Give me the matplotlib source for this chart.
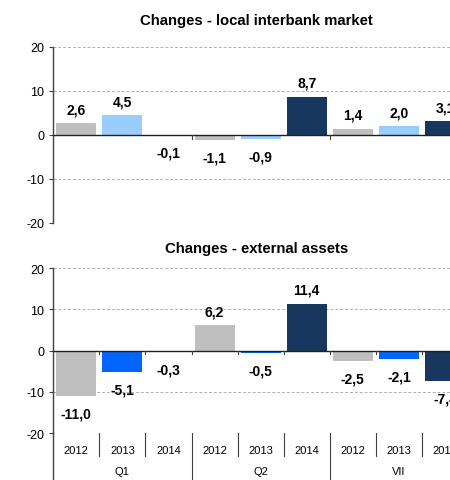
import numpy as np
import matplotlib
matplotlib.use("Agg")
import matplotlib.pyplot as plt
from matplotlib.lines import Line2D

plt.rcParams['font.family'] = ['Liberation Sans', 'DejaVu Sans']

years = ["2012", "2013", "2014"]
groups = ["Q1", "Q2", "VII"]
local_interbank = [2.6, 4.5, -0.1, -1.1, -0.9, 8.7, 1.4, 2.0, 3.1]
external_assets = [-11.0, -5.1, -0.3, 6.2, -0.5, 11.4, -2.5, -2.1, -7.4]
titles = ["Changes - local interbank market", "Changes - external assets"]

colors_top = ["#BFBFBF", "#99CCFF", "#17375E"]
colors_bot = ["#BFBFBF", "#0066FF", "#17375E"]

W, H = 450, 481
fig = plt.figure(figsize=(W / 100, H / 100), dpi=100)

def fx(px):
    return px / W

def fy(px):
    return 1 - px / H

left, right = 53.3, 468.0
ax1 = fig.add_axes([fx(left), fy(224.0), fx(right - left), (224.0 - 47.7) / H])
ax2 = fig.add_axes([fx(left), fy(434.3), fx(right - left), (434.3 - 269.0) / H])

n = len(local_interbank)
x = np.arange(n)
axis_col = "#404040"

def draw(ax, vals, cols, title, boundary_ticks, tpad):
    barcols = [cols[i % 3] for i in range(n)]
    ax.bar(x, vals, width=0.87, color=barcols, zorder=2)
    ax.set_xlim(-0.5, n - 0.5)
    ax.set_ylim(-20, 20)
    ax.set_yticks([-20, -10, 0, 10, 20])
    ax.set_yticklabels(["-20", "-10", "0", "10", "20"])
    ax.tick_params(axis='y', length=3, width=0.8, color=axis_col, labelsize=9, pad=3.3, labelcolor="#000000")
    ax.set_xticks([])
    for s in ["top", "right", "bottom"]:
        ax.spines[s].set_visible(False)
    ax.spines["left"].set_color(axis_col)
    ax.spines["left"].set_linewidth(1.0)
    for yv in [-20, -10, 10, 20]:
        ax.axhline(yv, color="#B0B0B0", lw=0.7, ls=(0, (3, 2)), zorder=0)
    ax.axhline(0, color="#202020", lw=1.0, zorder=3)
    for b in boundary_ticks:
        ax.plot([b, b], [0, -0.9], color=axis_col, lw=0.8, zorder=3)
    for xi, v in zip(x, vals):
        txt = f"{v:.1f}".replace(".", ",")
        if v >= 0:
            ax.annotate(txt, (xi, v), xytext=(0, 10), textcoords="offset points",
                        ha="center", va="center", fontsize=10, fontweight="bold", zorder=4)
        else:
            ax.annotate(txt, (xi, v), xytext=(0, -12.5), textcoords="offset points",
                        ha="center", va="center", fontsize=10, fontweight="bold", zorder=4)
    ax.set_title(title, fontsize=10.7, fontweight="bold", pad=tpad, x=0.49)

draw(ax1, local_interbank, colors_top, titles[0], [2.5, 5.5], 16)
draw(ax2, external_assets, colors_bot, titles[1], [b + 0.5 for b in range(n - 1)], 11.7)

# category axis for bottom panel
tr = ax2.get_xaxis_transform()
hpx = 434.3 - 269.0
for xi in x:
    ax2.annotate(years[xi % 3], (xi, 0), xycoords=tr, xytext=(0, -11.8), textcoords="offset points",
                 ha="center", va="center", fontsize=8, annotation_clip=False)
for gi, g in enumerate(groups):
    ax2.annotate(g, (gi * 3 + 1, 0), xycoords=tr, xytext=(0, -26.9), textcoords="offset points",
                 ha="center", va="center", fontsize=8, annotation_clip=False)
for b in range(1, n):
    bx = b - 0.5
    ylow = -23.0 / hpx if b % 3 else -60.0 / hpx
    ax2.add_line(Line2D([bx, bx], [0, ylow], transform=tr, color=axis_col, lw=0.8, clip_on=False))
ax2.add_line(Line2D([-0.5, -0.5], [0, -60.0 / hpx], transform=tr, color=axis_col, lw=1.0, clip_on=False))

fig.savefig("out.png", dpi=100)
